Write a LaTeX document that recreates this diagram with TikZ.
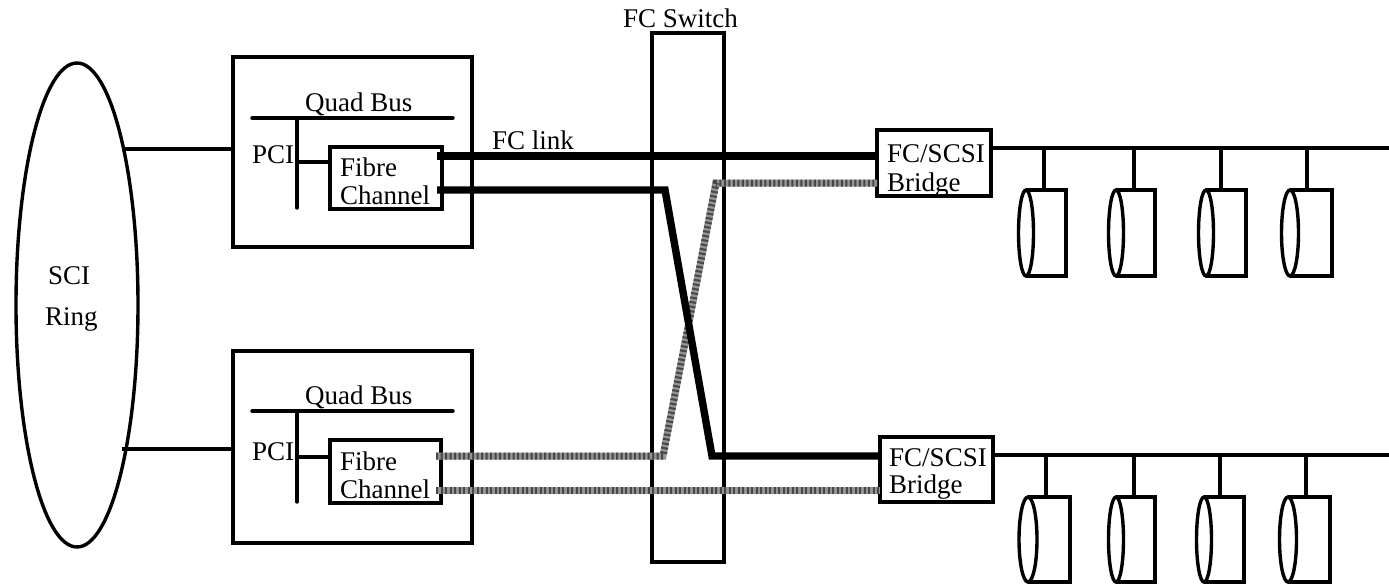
\documentclass[tikz,border=0pt]{standalone}
\usepackage{fontspec}
\setmainfont{Liberation Serif}
\usetikzlibrary{shapes.geometric}
\tikzset{
  ln/.style={line width=3.4pt,black,line cap=butt},
  box/.style={draw,line width=3.4pt,rectangle,inner sep=0pt,outer sep=0pt,fill=white},
  oval/.style={draw,line width=3.4pt,ellipse,inner sep=0pt,outer sep=0pt},
  fcblack/.style={line width=7.4pt,black,line join=miter},
  fcgrey/.style={line width=7pt,color=black!42,line join=miter,
    postaction={draw,color=black!72,line width=7pt,dash pattern=on 2pt off 2.5pt}},
  lab/.style={anchor=base west,inner sep=0pt,font=\fontsize{27}{27}\selectfont},
}
\newcommand{\diskunit}[6]{% name, ellipse x, width, top y, bottom y, right x
  \coordinate (#1r) at (#6,#4);
  \node[oval,fill=white,minimum width=#3pt,minimum height={#5pt-#4pt}] (#1) at (#2,{(#4+#5)/2}) {};
  \draw[ln,line join=miter] (#1.north) -- (#1r) -- (#1r |- #1.south) -- (#1.south);
}
\begin{document}
\begin{tikzpicture}[x=1pt,y=-1pt]
\useasboundingbox (0,0) rectangle (1389,586);
% ring
\node[oval,minimum width=122pt,minimum height=484pt] (ring) at (77,305) {};
% processor boxes
\node[box,minimum width=239pt,minimum height=190pt] (qa) at (352.5,152) {};
\node[box,minimum width=239pt,minimum height=192pt] (qb) at (352.5,447) {};
\coordinate (ra1) at (122,149);
\coordinate (rb1) at (122,449);
\draw[ln] (ra1) -- (qa.west |- ra1);
\draw[ln] (rb1) -- (qb.west |- rb1);
% internal buses
\coordinate (ba1) at (252,118); \coordinate (ba2) at (453,118);
\coordinate (pa1) at (297,118); \coordinate (pa2) at (297,208);
\coordinate (bb1) at (252,411); \coordinate (bb2) at (453,411);
\coordinate (pb1) at (297,411); \coordinate (pb2) at (297,502);
\draw[ln,line cap=round] (ba1) -- (ba2);
\draw[ln,line cap=round] (pa1) -- (pa2);
\draw[ln,line cap=round] (bb1) -- (bb2);
\draw[ln,line cap=round] (pb1) -- (pb2);
% fibre channel boxes
\node[box,minimum width=112pt,minimum height=62pt] (fa) at (386,178) {};
\node[box,minimum width=111pt,minimum height=63pt] (fb) at (385.5,471.5) {};
\coordinate (ca) at (297,162); \coordinate (cb) at (297,457);
\draw[ln] (ca) -- (fa.west |- ca);
\draw[ln] (cb) -- (fb.west |- cb);
% switch
\node[draw,line width=3.4pt,rectangle,inner sep=0pt,outer sep=0pt,minimum width=72pt,minimum height=529pt] (sw) at (688,297.5) {};
% bridges
\node[box,minimum width=114pt,minimum height=66pt] (ga) at (934,163) {};
\node[box,minimum width=113pt,minimum height=65pt] (gb) at (936.5,469.5) {};
% FC ports
\coordinate (a1) at (437,156); \coordinate (a2) at (437,190);
\coordinate (b1) at (436,456); \coordinate (b2) at (436,490);
\coordinate (m1) at (665,190); \coordinate (m2) at (712,456);
\coordinate (n1) at (663,456); \coordinate (n2) at (716,183);
% grey links
\draw[fcgrey] (b1) -- (n1) -- (n2) -- (ga.west |- n2);
\draw[fcgrey] (b2) -- (gb.west |- b2);
% black links
\draw[fcblack] (a1) -- (ga.west |- a1);
\draw[fcblack] (a2) -- (m1) -- (m2) -- (gb.west |- m2);
% SCSI buses
\coordinate (ea) at (1389,148); \coordinate (eb) at (1389,455);
\draw[ln] (ga.east |- ea) -- (ea);
\draw[ln] (gb.east |- eb) -- (eb);
% disks top
\diskunit{d1}{1026}{15}{190}{276}{1066}
\diskunit{d2}{1116}{15}{190}{276}{1155}
\diskunit{d3}{1206}{15}{190}{276}{1246}
\diskunit{d4}{1290}{17}{190}{276}{1332}
\coordinate (s1) at (1044,148); \coordinate (s2) at (1134,148); \coordinate (s3) at (1221,148); \coordinate (s4) at (1307,148);
\draw[ln] (s1) -- (s1 |- d1r);
\draw[ln] (s2) -- (s2 |- d2r);
\draw[ln] (s3) -- (s3 |- d3r);
\draw[ln] (s4) -- (s4 |- d4r);
% disks bottom
\diskunit{e1}{1028}{18}{497}{582}{1070}
\diskunit{e2}{1116}{15}{497}{582}{1155}
\diskunit{e3}{1204}{15}{497}{582}{1244}
\diskunit{e4}{1288}{17}{497}{582}{1330}
\coordinate (t1) at (1046,455); \coordinate (t2) at (1134,455); \coordinate (t3) at (1220,455); \coordinate (t4) at (1306,455);
\draw[ln] (t1) -- (t1 |- e1r);
\draw[ln] (t2) -- (t2 |- e2r);
\draw[ln] (t3) -- (t3 |- e3r);
\draw[ln] (t4) -- (t4 |- e4r);
% labels
\node[lab] (l1) at (48,284) {SCI};
\node[lab] (l2) at (45,325) {Ring};
\node[lab] (l3) at (305,111) {Quad Bus};
\node[lab] (l4) at (252,163) {PCI};
\node[lab] (l5) at (340,176) {Fibre};
\node[lab] (l6) at (340,204) {Channel};
\node[lab] (l7) at (492,149) {FC link};
\node[lab] (l8) at (305,404) {Quad Bus};
\node[lab] (l9) at (252,460) {PCI};
\node[lab] (l10) at (340,470) {Fibre};
\node[lab] (l11) at (340,498) {Channel};
\node[lab] (l12) at (623,28) {FC Switch};
\node[lab] (l13) at (887,162) {FC/SCSI};
\node[lab] (l14) at (887,191) {Bridge};
\node[lab] (l15) at (889,466) {FC/SCSI};
\node[lab] (l16) at (889,493) {Bridge};
\end{tikzpicture}
\end{document}
